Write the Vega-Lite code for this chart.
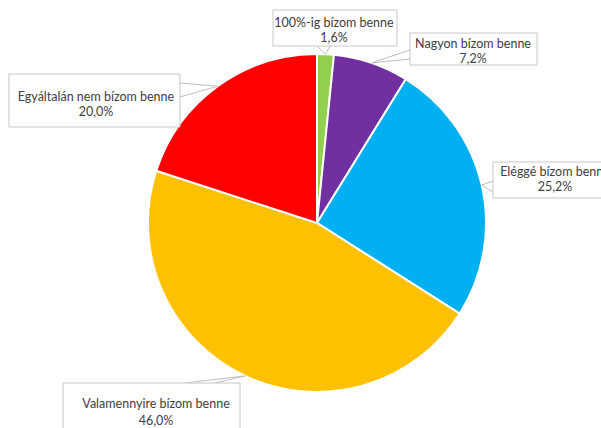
{
  "$schema": "https://vega.github.io/schema/vega-lite/v6.json",
  "width": 568,
  "height": 410,
  "autosize": "none",
  "padding": {"left": 33, "top": 18, "right": 0, "bottom": 0},
  "background": "white",
  "config": {"view": {"stroke": null}},
  "data": {
    "values": [
      {"n": 1, "cat": "100%-ig bízom benne", "value": 1.6},
      {"n": 2, "cat": "Nagyon bízom benne", "value": 7.2},
      {"n": 3, "cat": "Eléggé bízom benne", "value": 25.2},
      {"n": 4, "cat": "Valamennyire bízom benne", "value": 46.0},
      {"n": 5, "cat": "Egyáltalán nem bízom benne", "value": 20.0}
    ]
  },
  "transform": [
    {"joinaggregate": [{"op": "sum", "field": "value", "as": "total"}]},
    {"window": [{"op": "sum", "field": "value", "as": "cum"}], "sort": [{"field": "n"}]},
    {"calculate": "2*PI*(datum.cum - datum.value/2)/datum.total", "as": "mid"},
    {"calculate": "169*sin(datum.mid)", "as": "ax"},
    {"calculate": "169*cos(datum.mid)", "as": "ay"},
    {"calculate": "datum.cat + '\\n' + replace(format(datum.value, '.1f'), '.', ',') + '%'", "as": "lines"}
  ],
  "layer": [
    {
      "mark": {"type": "arc", "outerRadius": 169, "stroke": "white", "strokeWidth": 2},
      "encoding": {
        "theta": {"field": "value", "type": "quantitative", "stack": true},
        "order": {"field": "n"},
        "color": {
          "field": "cat",
          "type": "nominal",
          "scale": {
            "domain": ["100%-ig bízom benne", "Nagyon bízom benne", "Eléggé bízom benne", "Valamennyire bízom benne", "Egyáltalán nem bízom benne"],
            "range": ["#92D050", "#7030A0", "#00B0F0", "#FFC000", "#FF0000"]
          },
          "legend": null
        }
      }
    },
    {
      "transform": [{"filter": "datum.n == 1"}],
      "encoding": {
        "x": {"field": "ax", "type": "quantitative", "scale": {"domain": [-284, 284], "nice": false, "zero": false}, "axis": null},
        "y": {"field": "ay", "type": "quantitative", "scale": {"domain": [-205, 205], "nice": false, "zero": false}, "axis": null},
        "x2": {"field": "ax"},
        "y2": {"field": "ay"}
      },
      "layer": [
        {"mark": {"type": "rule", "color": "#BFBFBF", "strokeWidth": 1, "x2Offset": -8.5, "y2Offset": -8.2}},
        {"mark": {"type": "rule", "color": "#BFBFBF", "strokeWidth": 1, "x2Offset": 4.5, "y2Offset": -8.2}},
        {"mark": {"type": "rect", "fill": "white", "stroke": "#C8C8C8", "strokeWidth": 1, "xOffset": -52.5, "x2Offset": 71.5, "yOffset": -44.2, "y2Offset": -8.2}},
        {"mark": {"type": "text", "dx": 8.5, "dy": -31.5, "align": "center", "baseline": "middle", "font": "Lato", "fontSize": 12.5, "lineHeight": 15, "lineBreak": "\n", "color": "#404040"}, "encoding": {"text": {"field": "lines"}}}
      ]
    },
    {
      "transform": [{"filter": "datum.n == 2"}],
      "encoding": {
        "x": {"field": "ax", "type": "quantitative", "scale": {"domain": [-284, 284], "nice": false, "zero": false}, "axis": null},
        "y": {"field": "ay", "type": "quantitative", "scale": {"domain": [-205, 205], "nice": false, "zero": false}, "axis": null},
        "x2": {"field": "ax"},
        "y2": {"field": "ay"}
      },
      "layer": [
        {"mark": {"type": "rule", "color": "#BFBFBF", "strokeWidth": 1, "x2Offset": 38.8, "y2Offset": -12.9}},
        {"mark": {"type": "rule", "color": "#BFBFBF", "strokeWidth": 1, "x2Offset": 38.8, "y2Offset": -3.9}},
        {"mark": {"type": "rect", "fill": "white", "stroke": "#C8C8C8", "strokeWidth": 1, "xOffset": 38.8, "x2Offset": 165.8, "yOffset": -29.9, "y2Offset": 2.1}},
        {"mark": {"type": "text", "dx": 101.8, "dy": -18.9, "align": "center", "baseline": "middle", "font": "Lato", "fontSize": 12.5, "lineHeight": 15, "lineBreak": "\n", "color": "#404040"}, "encoding": {"text": {"field": "lines"}}}
      ]
    },
    {
      "transform": [{"filter": "datum.n == 3"}],
      "encoding": {
        "x": {"field": "ax", "type": "quantitative", "scale": {"domain": [-284, 284], "nice": false, "zero": false}, "axis": null},
        "y": {"field": "ay", "type": "quantitative", "scale": {"domain": [-205, 205], "nice": false, "zero": false}, "axis": null},
        "x2": {"field": "ax"},
        "y2": {"field": "ay"}
      },
      "layer": [
        {"mark": {"type": "rule", "color": "#BFBFBF", "strokeWidth": 1, "x2Offset": 11.3, "y2Offset": -4.1}},
        {"mark": {"type": "rule", "color": "#BFBFBF", "strokeWidth": 1, "x2Offset": 11.3, "y2Offset": 6.9}},
        {"mark": {"type": "rect", "fill": "white", "stroke": "#C8C8C8", "strokeWidth": 1, "xOffset": 11.3, "x2Offset": 178, "yOffset": -23.1, "y2Offset": 12.9}},
        {"mark": {"type": "text", "dx": 73.3, "dy": -13.1, "align": "center", "baseline": "middle", "font": "Lato", "fontSize": 12.5, "lineHeight": 15, "lineBreak": "\n", "color": "#404040"}, "encoding": {"text": {"field": "lines"}}}
      ]
    },
    {
      "transform": [{"filter": "datum.n == 4"}],
      "encoding": {
        "x": {"field": "ax", "type": "quantitative", "scale": {"domain": [-284, 284], "nice": false, "zero": false}, "axis": null},
        "y": {"field": "ay", "type": "quantitative", "scale": {"domain": [-205, 205], "nice": false, "zero": false}, "axis": null},
        "x2": {"field": "ax"},
        "y2": {"field": "ay"}
      },
      "layer": [
        {"mark": {"type": "rule", "color": "#BFBFBF", "strokeWidth": 1, "x2Offset": -60, "y2Offset": 7.1}},
        {"mark": {"type": "rule", "color": "#BFBFBF", "strokeWidth": 1, "x2Offset": -30, "y2Offset": 7.1}},
        {"mark": {"type": "rect", "fill": "white", "stroke": "#C8C8C8", "strokeWidth": 1, "xOffset": -182, "x2Offset": -5, "yOffset": 7.1, "y2Offset": 74}},
        {"mark": {"type": "text", "dx": -89, "dy": 28, "align": "center", "baseline": "middle", "font": "Lato", "fontSize": 12.5, "lineHeight": 17, "lineBreak": "\n", "color": "#404040"}, "encoding": {"text": {"field": "lines"}}}
      ]
    },
    {
      "transform": [{"filter": "datum.n == 5"}],
      "encoding": {
        "x": {"field": "ax", "type": "quantitative", "scale": {"domain": [-284, 284], "nice": false, "zero": false}, "axis": null},
        "y": {"field": "ay", "type": "quantitative", "scale": {"domain": [-205, 205], "nice": false, "zero": false}, "axis": null},
        "x2": {"field": "ax"},
        "y2": {"field": "ay"}
      },
      "layer": [
        {"mark": {"type": "rule", "color": "#BFBFBF", "strokeWidth": 1, "x2Offset": -37.7, "y2Offset": -3.3}},
        {"mark": {"type": "rule", "color": "#BFBFBF", "strokeWidth": 1, "x2Offset": -37.7, "y2Offset": 10.7}},
        {"mark": {"type": "rect", "fill": "white", "stroke": "#C8C8C8", "strokeWidth": 1, "xOffset": -208.7, "x2Offset": -37.7, "yOffset": -12.3, "y2Offset": 40.7}},
        {"mark": {"type": "text", "dx": -121.7, "dy": 10.5, "align": "center", "baseline": "middle", "font": "Lato", "fontSize": 12.5, "lineHeight": 15, "lineBreak": "\n", "color": "#404040"}, "encoding": {"text": {"field": "lines"}}}
      ]
    }
  ]
}
